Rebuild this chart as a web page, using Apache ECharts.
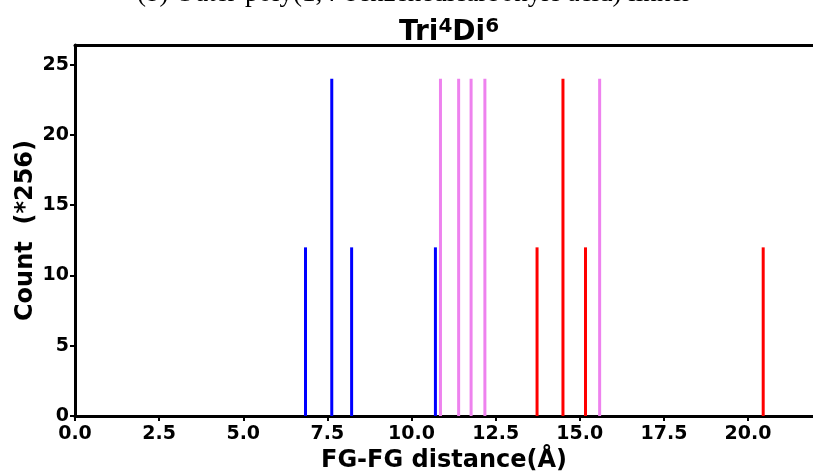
<!DOCTYPE html>
<html>
<head>
<meta charset="utf-8">
<script src="https://cdn.jsdelivr.net/npm/echarts@6/dist/echarts.min.js"></script>
<style>html,body{margin:0;padding:0;background:#fff;}#c{width:813px;height:471px;}</style>
</head>
<body>
<div id="c"></div>
<script>
// Data
const blueX = [6.85, 7.63, 8.22, 10.71];
const blueCount = [12, 24, 12, 12];
const violetX = [10.86, 11.40, 11.77, 12.18, 15.59];
const violetCount = [24, 24, 24, 24, 24];
const redX = [13.73, 14.50, 15.17, 20.45];
const redCount = [12, 24, 12, 12];
const xTicks = [0, 2.5, 5, 7.5, 10, 12.5, 15, 17.5, 20];
const yTicks = [0, 5, 10, 15, 20, 25];
const titleText = 'Tri{s|4}Di{s|6}';
const supTitle = '(b) Outer-poly(1,4-benzenedicarbonyle acid) linker';

function mk(xs, ys) { return xs.map((x, i) => [x, ys[i]]); }

function lineSeries(name, color, data) {
  return {
    type: 'custom', name: name, data: data, xAxisIndex: 0,
    renderItem: function (params, api) {
      const p0 = api.coord([api.value(0), 0]);
      const p1 = api.coord([api.value(0), api.value(1)]);
      return { type: 'line', shape: { x1: p0[0], y1: p0[1], x2: p1[0], y2: p1[1] },
        style: { stroke: color, lineWidth: 3 } };
    }
  };
}

const font = 'DejaVu Sans';
const XMAX = 21.93;
const chart = echarts.init(document.getElementById('c'), null, { renderer: 'canvas' });
chart.setOption({
  animation: false,
  backgroundColor: '#fff',
  graphic: [
    { type: 'text', x: 414, y: 7, style: { text: supTitle, align: 'center', verticalAlign: 'bottom', textAlign: 'center', textVerticalAlign: 'bottom', font: '27px "Liberation Serif"', fill: '#000' } }
  ],
  title: {
    text: titleText, left: 444, top: 12, textAlign: 'center',
    textStyle: { fontFamily: font, fontWeight: 'bold', fontSize: 28, color: '#000',
      rich: { s: { fontFamily: font, fontWeight: 'bold', fontSize: 20, verticalAlign: 'top', padding: [0, 0, 12, 0], color: '#000' } } }
  },
  grid: { left: 75, top: 45, right: 0, bottom: 55, show: false, containLabel: false, outerBoundsMode: 'none' },
  xAxis: [{
    type: 'value', min: 0, max: XMAX, interval: 2.5,
    splitLine: { show: false },
    axisLine: { show: true, lineStyle: { color: '#000', width: 3 } },
    axisTick: { show: true, length: 5, lineStyle: { color: '#000', width: 2 }, customValues: xTicks },
    axisLabel: { customValues: xTicks, formatter: v => v.toFixed(1), fontFamily: font, fontWeight: 'bold', fontSize: 19, color: '#000', margin: 9 },
    name: 'FG-FG distance(Å)', nameLocation: 'middle', nameGap: 32,
    nameTextStyle: { fontFamily: font, fontWeight: 'bold', fontSize: 24, color: '#000' }
  }, {
    type: 'value', position: 'top', min: 0, max: XMAX,
    splitLine: { show: false },
    axisLine: { show: true, lineStyle: { color: '#000', width: 3 } },
    axisTick: { show: false }, axisLabel: { show: false }
  }],
  yAxis: {
    type: 'value', min: 0, max: 26.4, interval: 5,
    splitLine: { show: false },
    axisLine: { show: true, lineStyle: { color: '#000', width: 3 } },
    axisTick: { show: true, length: 5, lineStyle: { color: '#000', width: 2 }, customValues: yTicks },
    axisLabel: { customValues: yTicks, fontFamily: font, fontWeight: 'bold', fontSize: 19, color: '#000', margin: 6 },
    name: 'Count  (*256)', nameLocation: 'middle', nameGap: 37, nameMoveOverlap: false,
    nameTextStyle: { fontFamily: font, fontWeight: 'bold', fontSize: 24, color: '#000' }
  },
  series: [
    lineSeries('blue', '#0000ff', mk(blueX, blueCount)),
    lineSeries('violet', '#ee82ee', mk(violetX, violetCount)),
    lineSeries('red', '#ff0000', mk(redX, redCount))
  ]
});
</script>
</body>
</html>
